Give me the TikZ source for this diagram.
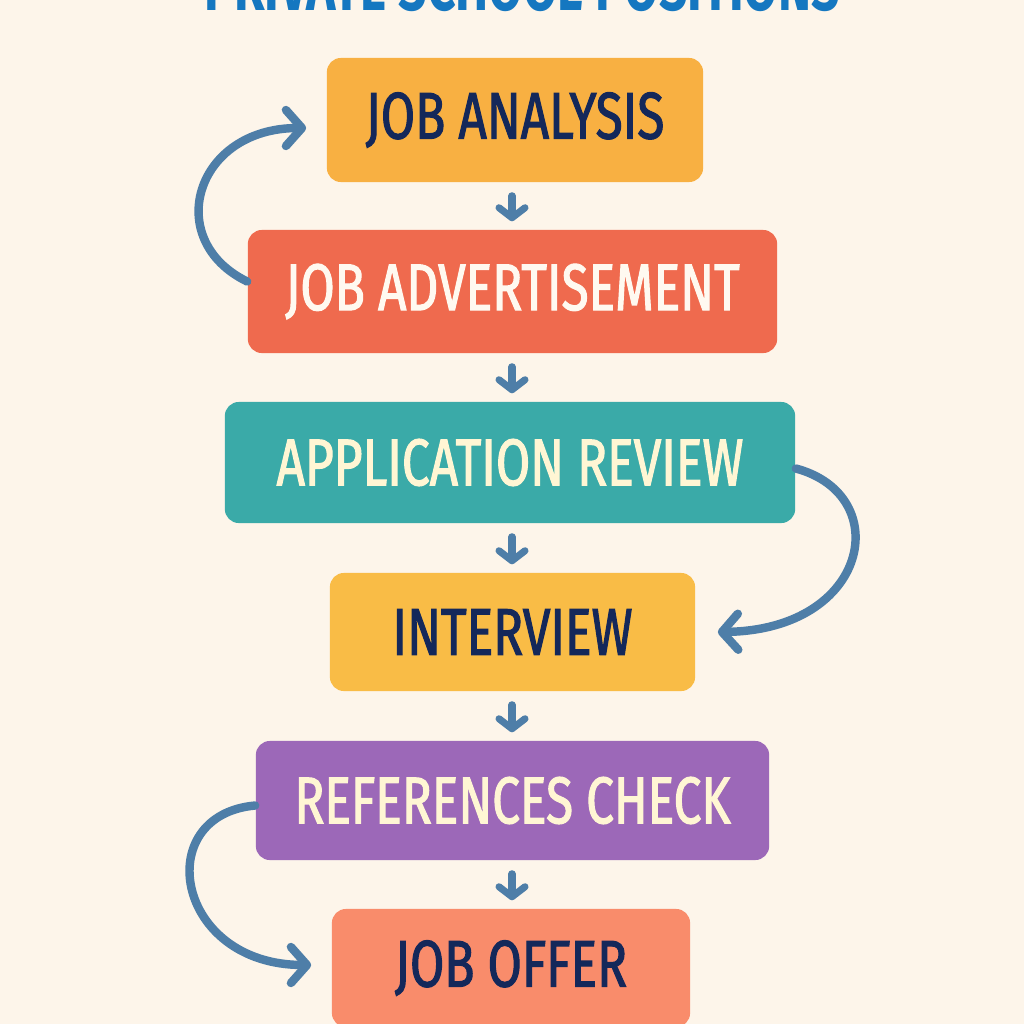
\documentclass[tikz,border=0pt]{standalone}
\usepackage{fontspec}
\setmainfont[FakeStretch=0.75,FakeBold=1.6]{Fira Sans}
\newfontfamily\titlefont{Fira Sans}
\usetikzlibrary{arrows.meta}
\definecolor{bgc}{HTML}{FDF5EA}
\definecolor{cOrange}{HTML}{F8B042}
\definecolor{cRed}{HTML}{EF6A4E}
\definecolor{cTeal}{HTML}{3AAAA8}
\definecolor{cYellow}{HTML}{F9BC46}
\definecolor{cPurple}{HTML}{9C68B8}
\definecolor{cSalmon}{HTML}{F98C6B}
\definecolor{navy}{HTML}{14285A}
\definecolor{creamtxt}{HTML}{FFF6D4}
\definecolor{whitetxt}{HTML}{FFF9F0}
\definecolor{arrowblue}{HTML}{4E7EA8}
\definecolor{titleblue}{HTML}{1577C0}
\tikzset{
  stage/.style={rounded corners=0.14cm, inner sep=0pt, font=\fontsize{18.8}{20}\selectfont},
  flow/.style={draw=arrowblue, line width=2pt, line cap=round, -{Straight Barb[length=0.1cm,width=0.26cm,round]}},
  loop/.style={draw=arrowblue, line width=2.4pt, line cap=round, -{Straight Barb[length=0.16cm,width=0.36cm,round]}}
}
\begin{document}
\begin{tikzpicture}[x=0.01cm,y=-0.01cm]
\fill[bgc] (0,0) rectangle (1024,1024);
\useasboundingbox (0,0) rectangle (1024,1024);
\clip (0,0) rectangle (1024,1024);
\node[anchor=south, inner sep=0pt, text=titleblue] (title) at (522,12)
  {\resizebox{6.35cm}{0.5cm}{\titlefont\bfseries PRIVATE SCHOOL POSITIONS}};
\node[stage, fill=cOrange, text=navy, minimum width=3.76cm, minimum height=1.24cm] (n1) at (515,120) {JOB ANALYSIS};
\node[stage, fill=cRed, text=whitetxt, minimum width=5.29cm, minimum height=1.23cm] (n2) at (512.5,291.5) {JOB ADVERTISEMENT};
\node[stage, fill=cTeal, text=creamtxt, minimum width=5.70cm, minimum height=1.21cm] (n3) at (510,462.5) {APPLICATION REVIEW};
\node[stage, fill=cYellow, text=navy, minimum width=3.65cm, minimum height=1.18cm] (n4) at (512.5,632) {INTERVIEW};
\node[stage, fill=cPurple, text=creamtxt, minimum width=5.13cm, minimum height=1.19cm] (n5) at (512.5,800.5) {REFERENCES CHECK};
\node[stage, fill=cSalmon, text=navy, minimum width=3.58cm, minimum height=1.18cm] (n6) at (511,968) {JOB OFFER};
\draw[flow] ([yshift=-0.13cm]n1.south -| 512,0) -- ([yshift=0.08cm]n2.north -| 512,0);
\draw[flow] ([yshift=-0.13cm]n2.south -| 512,0) -- ([yshift=0.08cm]n3.north -| 512,0);
\draw[flow] ([yshift=-0.13cm]n3.south -| 512,0) -- ([yshift=0.08cm]n4.north -| 512,0);
\draw[flow] ([yshift=-0.13cm]n4.south -| 512,0) -- ([yshift=0.08cm]n5.north -| 512,0);
\draw[flow] ([yshift=-0.13cm]n5.south -| 512,0) -- ([yshift=0.08cm]n6.north -| 512,0);
\draw[loop] ([yshift=0.1cm]n2.west) .. controls (162,240) and (195,128) .. ([xshift=-0.2cm,yshift=-0.08cm]n1.west);
\draw[loop] ([yshift=-0.06cm]n3.east) .. controls (895,495) and (870,630) .. ([xshift=0.22cm]n4.east);
\draw[loop] ([yshift=-0.05cm]n5.west) .. controls (150,815) and (175,965) .. ([xshift=-0.2cm,yshift=0.03cm]n6.west);
\end{tikzpicture}
\end{document}
